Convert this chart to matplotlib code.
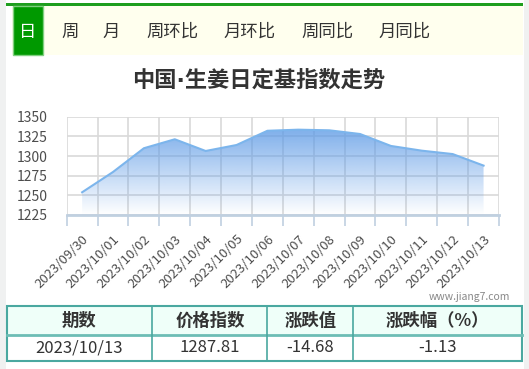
import numpy as np
import matplotlib
matplotlib.use("Agg")
import matplotlib.pyplot as plt
from matplotlib.patches import Rectangle, Polygon

plt.rcParams['font.family'] = ['Noto Sans CJK SC', 'DejaVu Sans']

# data
dates = ['2023/09/30', '2023/10/01', '2023/10/02', '2023/10/03', '2023/10/04',
         '2023/10/05', '2023/10/06', '2023/10/07', '2023/10/08', '2023/10/09',
         '2023/10/10', '2023/10/11', '2023/10/12', '2023/10/13']
values = [1253.9, 1279.7, 1309.9, 1321.3, 1306.4, 1314.0, 1332.1,
          1333.5, 1332.7, 1328.0, 1312.8, 1306.8, 1302.49, 1287.81]
y_ticks = [1225, 1250, 1275, 1300, 1325, 1350]

tabs = ['日', '周', '月', '周环比', '月环比', '周同比', '月同比']
title = '中国·生姜日定基指数走势'
table_header = ['期数', '价格指数', '涨跌值', '涨跌幅（%）']
table_row = ['2023/10/13', '1287.81', '-14.68', '-1.13']

W, H = 529, 369
fig = plt.figure(figsize=(W / 100, H / 100), dpi=100)
fig.patch.set_facecolor('white')

# background layer in pixel coordinates
bg = fig.add_axes([0, 0, 1, 1], zorder=0)
bg.set_xlim(0, W)
bg.set_ylim(H, 0)
bg.axis('off')

bg.add_patch(Rectangle((0, 0), 6, H, fc='#F0F1F1', ec='none'))
bg.add_patch(Rectangle((524, 0), 5, H, fc='#F0F1F1', ec='none'))
bg.add_patch(Rectangle((6, 3.3), 517, 2.2, fc='#1E9E1E', ec='none'))
bg.add_patch(Rectangle((12, 5.5), 511, 49.5, fc='#FFFFEE', ec='none'))
bg.add_patch(Rectangle((12.5, 5.5), 30, 49.5, fc='#009900', ec='#7FCF7F', lw=1))

tab_x = [27.7, 69.8, 111.3, 172, 250, 327, 405]
for i, t in enumerate(tabs):
    bg.text(tab_x[i], 31.5, t, ha='center', va='center', fontsize=12.5,
            color='white' if i == 0 else '#333333')

# DejaVu first so the middle dot stays narrow
bg.text(259, 80, title, ha='center', va='center', fontsize=16,
        fontweight='bold', color='#333333', family=['DejaVu Sans', 'Noto Sans CJK SC'])

bg.text(510, 296.5, 'www.jiang7.com', ha='right', va='center',
        fontsize=7.5, color='#888888')

# table
col_edges = [6.5, 152.4, 267.4, 353.3, 522]
top, mid, bot = 306, 335, 360.7
bg.add_patch(Rectangle((col_edges[0], top), col_edges[-1] - col_edges[0], mid - top,
                       fc='#EFFFF9', ec='none'))
bg.add_patch(Rectangle((col_edges[0], top), col_edges[-1] - col_edges[0], bot - top,
                       fc='none', ec='#4AA8A0', lw=1.5))
bg.plot([col_edges[0], col_edges[-1]], [mid, mid], color='#6DBDB5', lw=2)
for xe in col_edges[1:-1]:
    bg.plot([xe, xe], [top, bot], color='#4AA8A0', lw=1.2)
for i in range(4):
    cx = (col_edges[i] + col_edges[i + 1]) / 2
    bg.text(cx, (top + mid) / 2, table_header[i], ha='center', va='center',
            fontsize=12.5, fontweight='bold', color='#333333')
    bg.text(cx, (mid + bot) / 2, table_row[i], ha='center', va='center',
            fontsize=12, color='#333333')

# chart
left, right, ytop, ybot = 66.7, 499, 116.7, 215
ax = fig.add_axes([left / W, 1 - ybot / H, (right - left) / W, (ybot - ytop) / H], zorder=1)
ax.patch.set_alpha(0)
x = np.arange(len(values))
ax.set_xlim(-0.5, len(values) - 0.5)
ax.set_ylim(1225, 1350)

verts = [(x[0], 1225)] + list(zip(x, values)) + [(x[-1], 1225)]
poly = Polygon(verts, closed=True, fc='none', ec='none')
ax.add_patch(poly)
grad = np.zeros((256, 1, 4))
base = np.array([0.36, 0.60, 0.90])
grad[:, 0, :3] = base
grad[:, 0, 3] = np.linspace(0.0, 0.9, 256)
im = ax.imshow(grad, extent=[-0.5, len(values) - 0.5, 1225, 1350], origin='lower',
               aspect='auto', zorder=2)
im.set_clip_path(poly)
ax.plot(x, values, color='#7CB5EC', lw=1.5, zorder=3)

ax.set_yticks(y_ticks)
ax.set_xticks(x)
ax.set_xticklabels(dates, rotation=45, ha='right', rotation_mode='anchor')
ax.set_xticks(np.arange(-0.5, len(values), 1), minor=True)
ax.tick_params(axis='x', which='major', length=0, pad=12.5, labelsize=9.5, labelcolor='#4D4D4D')
ax.tick_params(axis='x', which='minor', length=8, color='#C0D0E0', width=1.2)
ax.tick_params(axis='y', length=0, pad=13.5, labelsize=10, labelcolor='#4D4D4D')
ax.set_axisbelow(True)
ax.grid(which='minor', axis='x', color='#D9D9D9', lw=1.2)
ax.grid(which='major', axis='y', color='#D9D9D9', lw=1.2)
for s in ['top', 'right', 'left']:
    ax.spines[s].set_visible(False)
ax.spines['bottom'].set_color('#C0D0E0')
ax.spines['bottom'].set_linewidth(2)

fig.savefig('out.png', dpi=100)
